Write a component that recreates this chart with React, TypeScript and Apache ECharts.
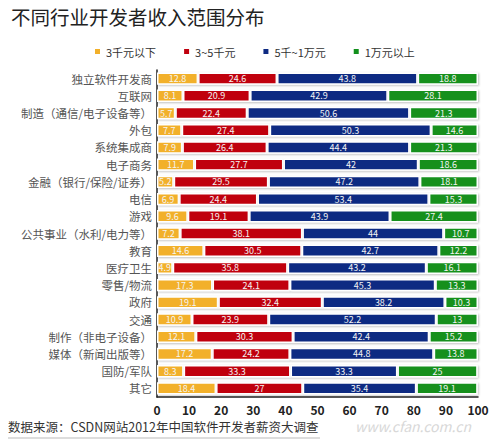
import React, { useEffect, useRef } from "react";
import * as echarts from "echarts";

const categories = [
  "独立软件开发商",
  "互联网",
  "制造（通信/电子设备等）",
  "外包",
  "系统集成商",
  "电子商务",
  "金融（银行/保险/证券）",
  "电信",
  "游戏",
  "公共事业（水利/电力等）",
  "教育",
  "医疗卫生",
  "零售/物流",
  "政府",
  "交通",
  "制作（非电子设备）",
  "媒体（新闻出版等）",
  "国防/军队",
  "其它",
];

const seriesNames = ["3千元以下", "3~5千元", "5千~1万元", "1万元以上"];

const below3k = [12.8, 8.1, 5.7, 7.7, 7.9, 11.7, 5.2, 6.9, 9.6, 7.2, 14.6, 4.9, 17.3, 19.1, 10.9, 12.1, 17.2, 8.3, 18.4];
const from3to5k = [24.6, 20.9, 22.4, 27.4, 26.4, 27.7, 29.5, 24.4, 19.1, 38.1, 30.5, 35.8, 24.1, 32.4, 23.9, 30.3, 24.2, 33.3, 27];
const from5kto10k = [43.8, 42.9, 50.6, 50.3, 44.4, 42, 47.2, 53.4, 43.9, 44, 42.7, 43.2, 45.3, 38.2, 52.2, 42.4, 44.8, 33.3, 35.4];
const above10k = [18.8, 28.1, 21.3, 14.6, 21.3, 18.6, 18.1, 15.3, 27.4, 10.7, 12.2, 16.1, 13.3, 10.3, 13, 15.2, 13.8, 25, 19.1];

const xTicks = [0, 10, 20, 30, 40, 50, 60, 70, 80, 90, 100];

const colors = ["#F2B02A", "#C0000E", "#0E2A82", "#12901C"];

const FONT = "'Noto Sans CJK SC', 'Noto Sans', sans-serif";

export default function App() {
  const ref = useRef<HTMLDivElement>(null);

  useEffect(() => {
    if (!ref.current) return;
    const chart = echarts.init(ref.current, undefined, { renderer: "svg" });
    const dataSets = [below3k, from3to5k, from5kto10k, above10k];
    const option = {
      animation: false,
      backgroundColor: "#ffffff",
      textStyle: { fontFamily: FONT },
      title: {
        text: "不同行业开发者收入范围分布",
        left: 6,
        top: 2,
        textStyle: { fontSize: 19.5, fontWeight: "normal", color: "#222", fontFamily: FONT },
      },
      legend: {
        data: seriesNames,
        top: 41,
        left: 88,
        itemWidth: 7,
        itemHeight: 7,
        itemGap: 26,
        icon: "rect",
        textStyle: { fontSize: 11, color: "#333", fontFamily: FONT },
      },
      grid: { left: 157, right: 22, top: 70, bottom: 51 },
      xAxis: {
        type: "value",
        min: xTicks[0],
        max: xTicks[xTicks.length - 1],
        interval: 10,
        axisLine: { show: true, lineStyle: { color: "#222", width: 1.5 } },
        axisTick: { show: false },
        splitLine: { show: false },
        axisLabel: { fontSize: 12, fontWeight: "bold", color: "#222", margin: 6, fontFamily: FONT },
      },
      yAxis: {
        type: "category",
        data: categories,
        inverse: true,
        axisLine: { show: true, lineStyle: { color: "#222", width: 1.5 } },
        axisTick: { show: false },
        axisLabel: { fontSize: 11.5, color: "#555", margin: 5, fontFamily: FONT },
      },
      series: seriesNames.map((name, i) => ({
        name,
        type: "bar",
        stack: "total",
        barCategoryGap: "28%",
        data: dataSets[i],
        itemStyle: {
          color: colors[i],
          borderColor: "#ffffff",
          borderWidth: 1.5,
          shadowColor: "rgba(0,0,0,0.25)",
          shadowBlur: 2,
          shadowOffsetX: 1,
          shadowOffsetY: 1,
        },
        label: {
          show: true,
          position: "inside",
          fontSize: 9,
          color: "#f4f4f4",
          fontFamily: FONT,
        },
      })),
      graphic: [
        {
          type: "text",
          left: 8,
          top: 420,
          style: {
            text: "数据来源：CSDN网站2012年中国软件开发者薪资大调查",
            fontSize: 12.5,
            fill: "#333",
            fontFamily: FONT,
          },
        },
        {
          type: "line",
          shape: { x1: 8, y1: 438, x2: 320, y2: 438 },
          style: { stroke: "#bbb", lineWidth: 1 },
        },
        {
          type: "text",
          left: 355,
          top: 419,
          style: {
            text: "www.cfan.com.cn",
            fontSize: 14,
            fontStyle: "italic",
            fill: "#d8d8d8",
            fontFamily: FONT,
          },
        },
      ],
    };
    chart.setOption(option);
    return () => chart.dispose();
  }, []);

  return (
    <div
      ref={ref}
      style={{ position: "fixed", left: 0, top: 0, width: 500, height: 448, background: "#fff" }}
    />
  );
}
